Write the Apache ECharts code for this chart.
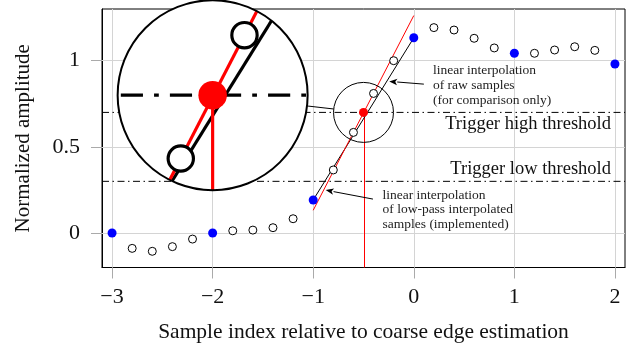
<!DOCTYPE html>
<html>
<head>
<meta charset="utf-8">
<script src="https://cdn.jsdelivr.net/npm/echarts@6/dist/echarts.min.js"></script>
<style>
  html, body { margin: 0; padding: 0; background: #fff; }
  #chart { width: 644px; height: 350px; }
</style>
</head>
<body>
<div id="chart"></div>
<script>
// raw samples (blue dots) at integer sample positions
const rawX = [-3, -2, -1, 0, 1, 2]
const rawY = [0, 0, 0.192, 1.133, 1.043, 0.981]
// low-pass interpolated samples in between (open circles)
const lpX = [-2.8, -2.6, -2.4, -2.2, -1.8, -1.6, -1.4, -1.2, -0.8, -0.6, -0.4, -0.2, 0.2, 0.4, 0.6, 0.8, 1.2, 1.4, 1.6, 1.8]
const lpY = [-0.089, -0.106, -0.079, -0.035, 0.013, 0.017, 0.031, 0.083, 0.366, 0.584, 0.81, 1.0, 1.192, 1.178, 1.13, 1.074, 1.043, 1.062, 1.081, 1.06]
// red line: interpolation through the two low-pass samples around the crossing
const redLineX = [-1, 0]
const redLineY = [0.132, 1.262]
const thresholds = [0.7, 0.3]
const thresholdNames = ['Trigger high threshold', 'Trigger low threshold']
const crossing = [-0.5, 0.7]
const insetCenter = [-2, 0.8]
const xTicks = [-3, -2, -1, 0, 1, 2]
const yTicks = [0, 0.5, 1]
const xRange = [-3.1, 2.1]
const yRange = [-0.2, 1.3]

const FONT = '"Liberation Serif", "Times New Roman", serif'
const dashDot = [7, 3.5, 1.5, 3.5]
const bigR = 95
const smallR = 30

const rawData = rawX.map((x, i) => [x, rawY[i]])
const lpData = lpX.map((x, i) => [x, lpY[i]])

function fmtTick (v) {
  return v < 0 ? '\u2212' + Math.abs(v) : String(v)
}

// magnified view of the crossing region
function renderInset (params, api) {
  const k = bigR / smallR
  const cs = api.coord(crossing)
  const cb = api.coord(insetCenter)
  const mag = p => {
    const c = api.coord(p)
    return [cb[0] + k * (c[0] - cs[0]), cb[1] + k * (c[1] - cs[1])]
  }
  const dx = cs[0] - cb[0]
  const dy = cs[1] - cb[1]
  const d = Math.hypot(dx, dy)
  const ux = dx / d
  const uy = dy / d
  const inner = []
  thresholds.forEach(t => {
    const a = mag([xRange[0], t])
    const b = mag([xRange[1], t])
    inner.push({ type: 'line', shape: { x1: a[0], y1: a[1], x2: b[0], y2: b[1] }, style: { stroke: '#000', lineWidth: k, lineDash: dashDot.map(v => v * k) } })
  })
  const r0 = mag([rawX[2], rawY[2]])
  const r1 = mag([rawX[3], rawY[3]])
  inner.push({ type: 'line', shape: { x1: r0[0], y1: r0[1], x2: r1[0], y2: r1[1] }, style: { stroke: '#000', lineWidth: k } })
  const l0 = mag([redLineX[0], redLineY[0]])
  const l1 = mag([redLineX[1], redLineY[1]])
  inner.push({ type: 'line', shape: { x1: l0[0], y1: l0[1], x2: l1[0], y2: l1[1] }, style: { stroke: '#f00', lineWidth: k } })
  const v0 = mag(crossing)
  const v1 = mag([crossing[0], yRange[0]])
  inner.push({ type: 'line', shape: { x1: v0[0], y1: v0[1], x2: v1[0], y2: v1[1] }, style: { stroke: '#f00', lineWidth: k } })
  lpData.forEach(p => {
    const c = mag(p)
    inner.push({ type: 'circle', shape: { cx: c[0], cy: c[1], r: 4 * k }, style: { fill: '#fff', stroke: '#000', lineWidth: k } })
  })
  rawData.forEach(p => {
    const c = mag(p)
    inner.push({ type: 'circle', shape: { cx: c[0], cy: c[1], r: 4.5 * k }, style: { fill: '#00f' } })
  })
  inner.push({ type: 'circle', shape: { cx: v0[0], cy: v0[1], r: 4.5 * k }, style: { fill: '#f00' } })

  return {
    type: 'group',
    children: [
      { type: 'line', shape: { x1: cb[0] + bigR * ux, y1: cb[1] + bigR * uy, x2: cs[0] - smallR * ux, y2: cs[1] - smallR * uy }, style: { stroke: '#000', lineWidth: 1 } },
      { type: 'circle', shape: { cx: cs[0], cy: cs[1], r: smallR }, style: { fill: 'none', stroke: '#000', lineWidth: 1 } },
      { type: 'circle', shape: { cx: cb[0], cy: cb[1], r: bigR }, style: { fill: '#fff' } },
      { type: 'group', clipPath: { type: 'circle', shape: { cx: cb[0], cy: cb[1], r: bigR } }, children: inner },
      { type: 'circle', shape: { cx: cb[0], cy: cb[1], r: bigR }, style: { fill: 'none', stroke: '#000', lineWidth: 2 } }
    ]
  }
}

// red drop line from the crossing point to the bottom of the plot
function renderDrop (params, api) {
  const top = api.coord(crossing)
  const bottom = api.coord([crossing[0], yRange[0]])
  const x = Math.round(top[0]) + 0.5
  return { type: 'line', shape: { x1: x, y1: top[1], x2: x, y2: bottom[1] }, style: { stroke: '#ff0000', lineWidth: 1 } }
}

function arrow (tail, tip) {
  const ang = Math.atan2(tip[1] - tail[1], tip[0] - tail[0])
  const len = 8
  const w = 3.2
  const bx = tip[0] - len * Math.cos(ang)
  const by = tip[1] - len * Math.sin(ang)
  const nx = -Math.sin(ang) * w
  const ny = Math.cos(ang) * w
  return [
    { type: 'line', shape: { x1: tail[0], y1: tail[1], x2: bx, y2: by }, style: { stroke: '#000', lineWidth: 1 } },
    { type: 'polygon', shape: { points: [tip, [bx + nx, by + ny], [bx + 2 * Math.cos(ang), by + 2 * Math.sin(ang)], [bx - nx, by - ny]] }, style: { fill: '#000' } }
  ]
}

function renderNotes (params, api) {
  const children = []
  const noteStyle = { font: '13.5px ' + FONT, fill: '#222', align: 'left', verticalAlign: 'top', lineHeight: 14.7 }
  const t1 = api.coord([0.19, 0.985])
  children.push({ type: 'text', x: t1[0], y: t1[1], style: Object.assign({ text: 'linear interpolation\nof raw samples\n(for comparison only)' }, noteStyle) })
  const t2 = api.coord([-0.311, 0.263])
  children.push({ type: 'text', x: t2[0], y: t2[1], style: Object.assign({ text: 'linear interpolation\nof low-pass interpolated\nsamples (implemented)' }, noteStyle) })
  children.push(...arrow(api.coord([0.1, 0.864]), api.coord([-0.244, 0.88])))
  children.push(...arrow(api.coord([-0.406, 0.197]), api.coord([-0.876, 0.249])))
  const h = api.coord([xRange[1], thresholds[0]])
  children.push({ type: 'text', x: h[0] - 14, y: h[1] + 11.5, style: { text: thresholdNames[0], font: '18.5px ' + FONT, fill: '#111', align: 'right', verticalAlign: 'middle' } })
  const l = api.coord([xRange[1], thresholds[1]])
  children.push({ type: 'text', x: l[0] - 14, y: l[1] - 12, style: { text: thresholdNames[1], font: '18.5px ' + FONT, fill: '#111', align: 'right', verticalAlign: 'middle' } })
  return { type: 'group', children: children }
}

// light grid lines at the tick values
const gridLines = xTicks.map(v => ({ xAxis: v })).concat(yTicks.map(v => ({ yAxis: v })))

const chart = echarts.init(document.getElementById('chart'))
chart.setOption({
  animation: false,
  grid: { left: 102, right: 19, top: 9, bottom: 82.5, show: true, borderColor: '#000', borderWidth: 1 },
  xAxis: {
    type: 'value',
    min: xRange[0],
    max: xRange[1],
    name: 'Sample index relative to coarse edge estimation',
    nameLocation: 'middle',
    nameGap: 54,
    nameTextStyle: { fontFamily: FONT, fontSize: 21.5, color: '#111' },
    axisLine: { show: true, onZero: false, lineStyle: { color: '#000', width: 1 } },
    axisTick: { show: true, customValues: xTicks, length: 11, lineStyle: { color: '#aaa' } },
    axisLabel: { customValues: xTicks, formatter: fmtTick, margin: 19, fontFamily: FONT, fontSize: 22, color: '#111' },
    splitLine: { show: false }
  },
  yAxis: {
    type: 'value',
    min: yRange[0],
    max: yRange[1],
    name: 'Normalized amplitude',
    nameLocation: 'middle',
    nameGap: 68,
    nameTextStyle: { fontFamily: FONT, fontSize: 21, color: '#111' },
    axisLine: { show: true, onZero: false, lineStyle: { color: '#000', width: 1 } },
    axisTick: { show: true, customValues: yTicks, length: 11, lineStyle: { color: '#aaa' } },
    axisLabel: { customValues: yTicks, formatter: fmtTick, margin: 22, fontFamily: FONT, fontSize: 22, color: '#111' },
    splitLine: { show: false }
  },
  series: [
    {
      name: thresholdNames[0],
      type: 'line',
      symbol: 'none',
      z: 2,
      color: '#000',
      lineStyle: { color: '#000', width: 1, type: dashDot },
      data: [[xRange[0], thresholds[0]], [xRange[1], thresholds[0]]],
      markLine: {
        silent: true,
        symbol: 'none',
        label: { show: false },
        lineStyle: { color: '#d4d4d4', width: 1, type: 'solid' },
        z: 1,
        data: gridLines
      }
    },
    {
      name: thresholdNames[1],
      type: 'line',
      symbol: 'none',
      z: 2,
      color: '#000',
      lineStyle: { color: '#000', width: 1, type: dashDot },
      data: [[xRange[0], thresholds[1]], [xRange[1], thresholds[1]]]
    },
    {
      name: 'raw interpolation',
      type: 'line',
      symbol: 'none',
      z: 2,
      color: '#000',
      lineStyle: { color: '#000', width: 1 },
      data: [rawData[2], rawData[3]]
    },
    {
      name: 'low-pass interpolation',
      type: 'line',
      symbol: 'none',
      z: 2,
      color: '#f00',
      lineStyle: { color: '#f00', width: 1 },
      data: redLineX.map((x, i) => [x, redLineY[i]])
    },
    {
      type: 'custom',
      z: 2,
      clip: false,
      silent: true,
      renderItem: renderDrop,
      data: [crossing]
    },
    {
      name: 'low-pass samples',
      type: 'scatter',
      symbol: 'circle',
      symbolSize: 8,
      z: 3,
      itemStyle: { color: '#fff', borderColor: '#000', borderWidth: 1, opacity: 1 },
      data: lpData
    },
    {
      name: 'raw samples',
      type: 'scatter',
      symbolSize: 9,
      z: 4,
      itemStyle: { color: '#00f', opacity: 1 },
      data: rawData
    },
    {
      name: 'crossing',
      type: 'scatter',
      symbolSize: 9,
      z: 4,
      itemStyle: { color: '#f00', opacity: 1 },
      data: [crossing]
    },
    {
      type: 'custom',
      z: 5,
      clip: false,
      silent: true,
      renderItem: renderNotes,
      data: [[0, 0]]
    },
    {
      type: 'custom',
      z: 6,
      clip: false,
      silent: true,
      renderItem: renderInset,
      data: [[0, 0]]
    }
  ]
})
</script>
</body>
</html>
